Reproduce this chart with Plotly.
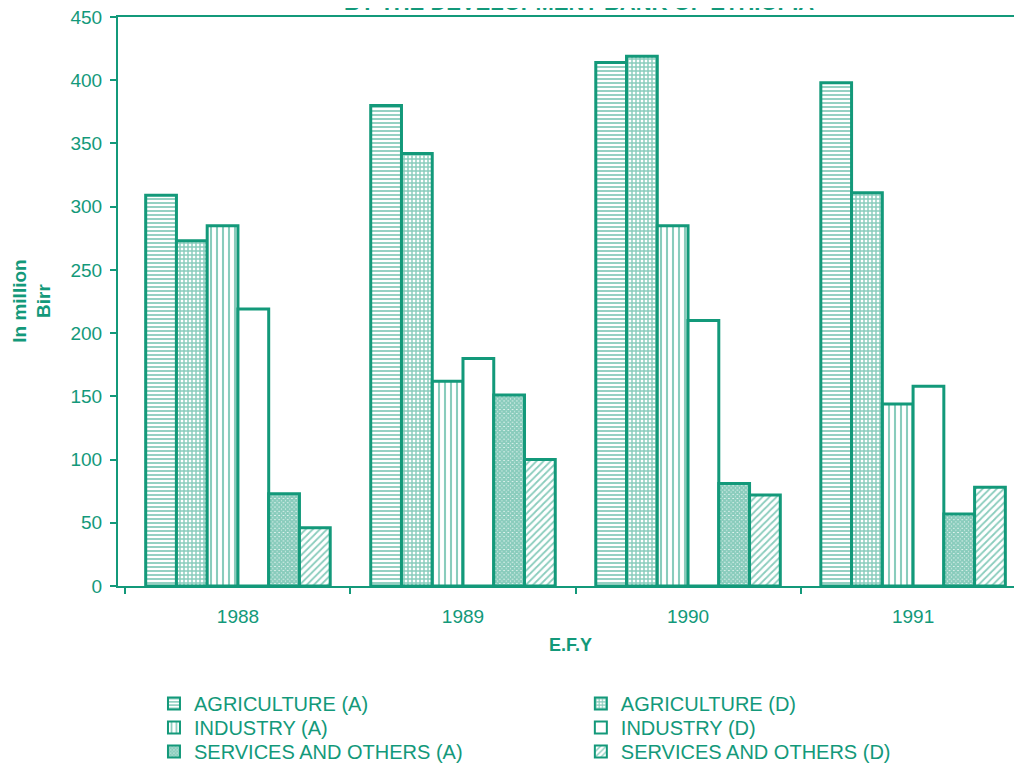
import plotly.graph_objects as go

years = ["1988", "1989", "1990", "1991"]
agri_a = [309, 380, 414, 398]
agri_d = [273, 342, 419, 311]
ind_a = [285, 162, 285, 144]
ind_d = [219, 180, 210, 158]
serv_a = [73, 151, 81, 57]
serv_d = [46, 100, 72, 78]

GREEN = "#13997a"
FONT = "Liberation Sans, Arial, sans-serif"

# (name, values, pattern, legend id)
series = [
    ("AGRICULTURE (A)", agri_a, dict(shape="-", size=4, solidity=0.45), "legend"),
    ("AGRICULTURE (D)", agri_d, dict(shape="+", size=4, solidity=0.6), "legend2"),
    ("INDUSTRY (A)", ind_a, dict(shape="|", size=6, solidity=0.35), "legend3"),
    ("INDUSTRY (D)", ind_d, dict(shape="", size=6, solidity=0.3), "legend4"),
    ("SERVICES AND OTHERS (A)", serv_a, dict(shape="x", size=3, solidity=0.9), "legend5"),
    ("SERVICES AND OTHERS (D)", serv_d, dict(shape="/", size=5, solidity=0.35), "legend6"),
]

fig = go.Figure()
for name, vals, pat, leg in series:
    fig.add_trace(go.Bar(
        x=years, y=vals, name=name, legend=leg,
        marker=dict(
            color="white",
            line=dict(color=GREEN, width=3),
            pattern=dict(fgcolor=GREEN, bgcolor="white", fillmode="overlay", **pat),
        ),
    ))

def leg(x, y):
    return dict(
        x=x, y=y, orientation="v", xanchor="left", yanchor="top",
        font=dict(size=20, color=GREEN, family=FONT),
        itemsizing="constant", bgcolor="rgba(0,0,0,0)",
    )

col1, col2 = 0.0398, 0.512
rows = [-0.1722, -0.2144, -0.2566]

fig.update_layout(
    width=1014, height=762,
    margin=dict(l=110, r=0, t=9, b=184, autoexpand=False),
    paper_bgcolor="white", plot_bgcolor="white",
    barmode="group", bargap=0.18, bargroupgap=0,
    font=dict(family=FONT, color=GREEN, size=19),
    showlegend=True,
    legend=leg(col1, rows[0]),
    legend2=leg(col2, rows[0]),
    legend3=leg(col1, rows[1]),
    legend4=leg(col2, rows[1]),
    legend5=leg(col1, rows[2]),
    legend6=leg(col2, rows[2]),
    xaxis=dict(
        range=[-0.533, 3.484], showgrid=False, showline=True, linecolor=GREEN,
        linewidth=2, mirror=True, ticks="outside", tickson="boundaries",
        ticklen=6, tickcolor=GREEN, tickwidth=1.5,
        tickfont=dict(size=19, color=GREEN), ticklabelstandoff=12,
    ),
    yaxis=dict(
        range=[0, 450], dtick=50, showgrid=False, showline=True, linecolor=GREEN,
        linewidth=2, ticks="outside", ticklen=6, tickcolor=GREEN, tickwidth=1.5,
        tickfont=dict(size=19, color=GREEN), zeroline=False, ticklabelstandoff=4,
        ticklabeloverflow="allow",
    ),
    annotations=[
        dict(text="<b>In million<br>Birr</b>", textangle=-90, xref="paper", yref="paper",
             x=-0.096, y=0.5, xanchor="center", yanchor="middle", showarrow=False,
             font=dict(size=19, color=GREEN, family=FONT)),
        dict(text="<b>E.F.Y</b>", xref="paper", yref="paper", x=0.5, y=-0.104,
             xanchor="center", yanchor="middle", showarrow=False,
             font=dict(size=18, color=GREEN, family=FONT)),
        dict(text="<b>BY THE DEVELOPMENT BANK OF ETHIOPIA</b>", xref="paper", yref="paper",
             x=0.51, y=1.025, xanchor="center", yanchor="middle", showarrow=False,
             font=dict(size=22, color=GREEN, family=FONT)),
    ],
)

fig.write_html("out.html")
